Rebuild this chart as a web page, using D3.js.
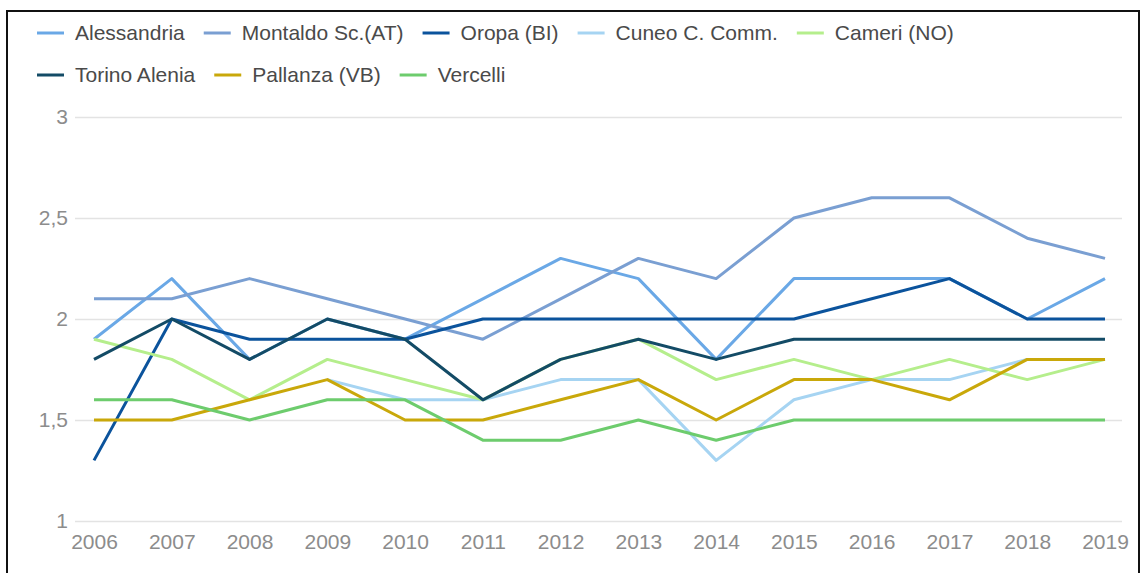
<!DOCTYPE html>
<html>
<head>
<meta charset="utf-8">
<script src="https://cdn.jsdelivr.net/npm/d3@7"></script>
<style>
  body { margin: 0; background: #fff; }
  svg text { font-family: Arial, "Liberation Sans", sans-serif; }
</style>
</head>
<body>
<div id="chart"></div>
<script>
// data
var years = [2006, 2007, 2008, 2009, 2010, 2011, 2012, 2013, 2014, 2015, 2016, 2017, 2018, 2019];
var stations = ["Alessandria", "Montaldo Sc.(AT)", "Oropa (BI)", "Cuneo C. Comm.", "Cameri (NO)",
                "Torino Alenia", "Pallanza (VB)", "Vercelli"];
var alessandria = [1.9, 2.2, 1.8, 2.0, 1.9, 2.1, 2.3, 2.2, 1.8, 2.2, 2.2, 2.2, 2.0, 2.2];
var montaldo    = [2.1, 2.1, 2.2, 2.1, 2.0, 1.9, 2.1, 2.3, 2.2, 2.5, 2.6, 2.6, 2.4, 2.3];
var oropa       = [1.3, 2.0, 1.9, 1.9, 1.9, 2.0, 2.0, 2.0, 2.0, 2.0, 2.1, 2.2, 2.0, 2.0];
var cuneo       = [null, null, null, 1.7, 1.6, 1.6, 1.7, 1.7, 1.3, 1.6, 1.7, 1.7, 1.8, 1.8];
var cameri      = [1.9, 1.8, 1.6, 1.8, 1.7, 1.6, 1.8, 1.9, 1.7, 1.8, 1.7, 1.8, 1.7, 1.8];
var torino      = [1.8, 2.0, 1.8, 2.0, 1.9, 1.6, 1.8, 1.9, 1.8, 1.9, 1.9, 1.9, 1.9, 1.9];
var pallanza    = [1.5, 1.5, 1.6, 1.7, 1.5, 1.5, 1.6, 1.7, 1.5, 1.7, 1.7, 1.6, 1.8, 1.8];
var vercelli    = [1.6, 1.6, 1.5, 1.6, 1.6, 1.4, 1.4, 1.5, 1.4, 1.5, 1.5, 1.5, 1.5, 1.5];
var yTicks = [1, 1.5, 2, 2.5, 3];

var palette = ["#6aa8e6", "#7a9fd2", "#0b539c", "#a6d4f2", "#b5ee8c", "#134b66", "#c9a80a", "#6dcc6d"];
var seriesValues = [alessandria, montaldo, oropa, cuneo, cameri, torino, pallanza, vercelli];

var width = 1144, height = 573;
var plot = {left: 75, right: 1122, top: 117, bottom: 521};

var svg = d3.select("#chart")
  .append("svg")
    .attr("width", width)
    .attr("height", height);

// frame round the chart
svg.append("rect")
    .attr("x", 7)
    .attr("y", 11)
    .attr("width", 1132)
    .attr("height", 620)
    .attr("fill", "none")
    .attr("stroke", "#111")
    .attr("stroke-width", 2);

var xScale = d3.scalePoint()
    .domain(years)
    .range([94, 1105]);

var yScale = d3.scaleLinear()
    .domain([1, 3])
    .range([plot.bottom, plot.top]);

var color = d3.scaleOrdinal()
    .domain(stations)
    .range(palette);

// comma as decimal mark
var itFormat = d3.formatLocale({decimal: ",", thousands: ".", grouping: [3], currency: ["", "€"]}).format("~g");

// y axis + gridlines
var yAxis = d3.axisLeft(yScale)
    .tickValues(yTicks)
    .tickFormat(itFormat)
    .tickSize(-(plot.right - plot.left))
    .tickPadding(7);

var gy = svg.append("g")
    .attr("class", "y axis")
    .attr("transform", "translate(" + plot.left + ",0)")
    .call(yAxis);
gy.select(".domain").remove();
gy.selectAll("line")
    .attr("stroke", "#e3e3e3")
    .attr("stroke-width", 1.5);
gy.selectAll("text")
    .attr("fill", "#8c8c8c")
    .style("font-size", "21px");

// x axis
var xAxis = d3.axisBottom(xScale)
    .tickSize(0)
    .tickPadding(13);

var gx = svg.append("g")
    .attr("class", "x axis")
    .attr("transform", "translate(0," + plot.bottom + ")")
    .call(xAxis);
gx.select(".domain").remove();
gx.selectAll("text")
    .attr("fill", "#8c8c8c")
    .style("font-size", "21px");

// lines
var line = d3.line()
    .defined(function(d) { return d.v !== null; })
    .x(function(d) { return xScale(d.year); })
    .y(function(d) { return yScale(d.v); });

var series = stations.map(function(name, i) {
  return {
    name: name,
    values: years.map(function(y, j) { return {year: y, v: seriesValues[i][j]}; })
  };
});

svg.selectAll("path.series")
    .data(series)
    .enter()
  .append("path")
    .attr("class", "series")
    .attr("d", function(d) { return line(d.values); })
    .attr("fill", "none")
    .attr("stroke", function(d) { return color(d.name); })
    .attr("stroke-width", 3)
    .attr("stroke-linejoin", "round");

// legend, two rows
var rows = [stations.slice(0, 5), stations.slice(5)];
var rowY = [33, 75];

rows.forEach(function(row, r) {
  var x0 = 37;
  row.forEach(function(name) {
    var g = svg.append("g").attr("class", "legend");
    g.append("line")
        .attr("x1", x0)
        .attr("x2", x0 + 27)
        .attr("y1", rowY[r])
        .attr("y2", rowY[r])
        .attr("stroke", color(name))
        .attr("stroke-width", 3);
    var t = g.append("text")
        .attr("x", x0 + 38)
        .attr("y", rowY[r])
        .attr("dy", "0.35em")
        .attr("fill", "#4a4a4a")
        .style("font-size", "21px")
        .text(name);
    x0 = x0 + 38 + t.node().getComputedTextLength() + 19;
  });
});
</script>
</body>
</html>
